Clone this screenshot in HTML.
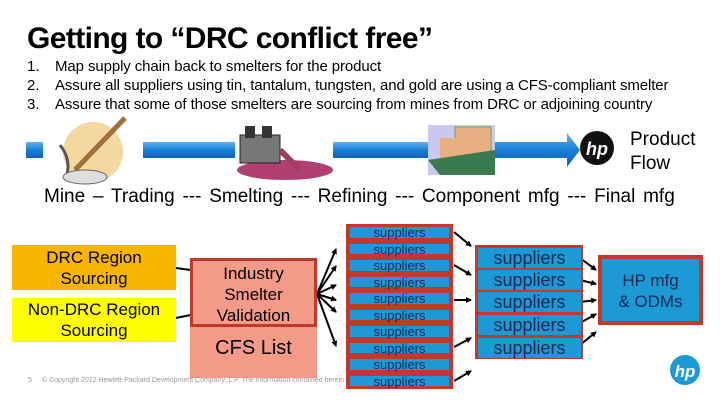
<!DOCTYPE html>
<html><head><meta charset="utf-8"><style>
body{margin:0;width:720px;height:405px;background:#fff;overflow:hidden;position:relative;font-family:"Liberation Sans",sans-serif;color:#000}
.a{position:absolute}
.t{white-space:nowrap}
.sup1{position:absolute;left:346px;width:107px;height:16.5px;background:#c0392b;box-sizing:border-box}
.sup1 div{position:absolute;left:4px;right:4px;top:3px;bottom:3px;background:#1b9ad6;text-align:center;font-size:13px;line-height:11px;color:#1a2a55}
.sup2{position:absolute;left:478px;width:103px;height:20px;background:#1b9ad6;text-align:center;font-size:18px;line-height:20px;color:#1a2a55}
</style></head><body>
<div class="a t" style="left:27px;top:22px;font-size:30px;font-weight:bold;letter-spacing:-0.6px">Getting to “DRC conflict free”</div>
<div class="a t" style="left:27px;top:57px;font-size:15px;line-height:19px">1.<br>2.<br>3.</div>
<div class="a t" style="left:55px;top:57px;font-size:15px;line-height:19px;letter-spacing:-0.1px">Map supply chain back to smelters for the product<br>Assure all suppliers using tin, tantalum, tungsten, and gold are using a CFS-compliant smelter<br>Assure that some of those smelters are sourcing from mines from DRC or adjoining country</div>

<svg class="a" style="left:0;top:0" width="720" height="405">
<defs><linearGradient id="g" x1="0" y1="0" x2="0" y2="1"><stop offset="0" stop-color="#5fb3f0"/><stop offset="0.5" stop-color="#1a7fd8"/><stop offset="1" stop-color="#1060b8"/></linearGradient>
<marker id="m" markerWidth="6" markerHeight="6" refX="5" refY="3" orient="auto" markerUnits="userSpaceOnUse"><path d="M0,0 L6,3 L0,6 z" fill="#000"/></marker></defs>
<rect x="26" y="142" width="17" height="16" fill="url(#g)"/>
<rect x="143" y="142" width="92" height="16" fill="url(#g)"/>
<rect x="333" y="142" width="95" height="16" fill="url(#g)"/>
<polygon points="495,142 567,142 567,133 580,150 567,167 567,158 495,158" fill="url(#g)"/>
<circle cx="93" cy="152" r="30" fill="#f3d9a0"/>
<line x1="75" y1="170" x2="125" y2="118" stroke="#a0703a" stroke-width="5"/>
<path d="M60 145 Q72 160 66 178" stroke="#555" stroke-width="3" fill="none"/>
<ellipse cx="85" cy="177" rx="22" ry="7" fill="#ddd" stroke="#666"/>
<ellipse cx="285" cy="170" rx="48" ry="10" fill="#b04070"/>
<rect x="240" y="135" width="40" height="28" fill="#777" stroke="#222"/>
<rect x="245" y="126" width="10" height="12" fill="#333"/><rect x="262" y="126" width="10" height="12" fill="#333"/>
<path d="M280 150 L300 170" stroke="#a04060" stroke-width="6"/>
<rect x="428" y="125" width="67" height="50" fill="#c8c8f0"/>
<rect x="455" y="127" width="36" height="34" fill="#e8b080" stroke="#6a4"/>
<rect x="440" y="138" width="16" height="20" fill="#e8b080"/>
<polygon points="428,160 495,150 495,175 440,175" fill="#3a7a50"/>
<circle cx="597" cy="148" r="17" fill="#111"/>
<text x="597" y="155" font-family="Liberation Sans" font-style="italic" font-weight="bold" font-size="18" fill="#fff" text-anchor="middle">hp</text>
<circle cx="685" cy="370" r="15" fill="#1b9ad6"/>
<text x="685" y="377" font-family="Liberation Sans" font-style="italic" font-weight="bold" font-size="17" fill="#fff" text-anchor="middle">hp</text>
<g stroke="#000" stroke-width="2" fill="none" marker-end="url(#m)">
<line x1="176" y1="268" x2="205" y2="272"/><line x1="176" y1="318" x2="205" y2="312"/>
<line x1="317" y1="294" x2="336" y2="249"/><line x1="317" y1="294" x2="336" y2="266"/>
<line x1="317" y1="294" x2="336" y2="285"/><line x1="317" y1="294" x2="336" y2="300"/>
<line x1="317" y1="294" x2="336" y2="312"/><line x1="317" y1="294" x2="336" y2="346"/>
<line x1="454" y1="232" x2="471" y2="246"/><line x1="454" y1="265" x2="471" y2="275"/>
<line x1="454" y1="300" x2="471" y2="300"/><line x1="454" y1="347" x2="471" y2="338"/>
<line x1="454" y1="381" x2="471" y2="371"/>
<line x1="580" y1="258" x2="596" y2="270"/><line x1="580" y1="280" x2="596" y2="284"/>
<line x1="580" y1="302" x2="596" y2="300"/><line x1="580" y1="323" x2="596" y2="314"/>
<line x1="580" y1="345" x2="596" y2="332"/>
</g>
</svg>
<div class="a t" style="left:630px;top:128px;font-size:19px;line-height:24px">Product<br>Flow</div>
<div class="a t" style="left:44px;top:186px;font-size:19px;word-spacing:2.5px">Mine – Trading --- Smelting --- Refining --- Component mfg --- Final mfg</div>

<div class="a" style="left:12px;top:245px;width:164px;height:45px;background:#f7b500;text-align:center;font-size:17px;line-height:21px;padding-top:2px;box-sizing:border-box">DRC Region<br>Sourcing</div>
<div class="a" style="left:12px;top:298px;width:164px;height:44px;background:#ffff00;text-align:center;font-size:17px;line-height:21px;padding-top:1px;box-sizing:border-box">Non-DRC Region<br>Sourcing</div>

<div class="a" style="left:190px;top:258px;width:127px;height:120px;background:#f49a88"></div>
<div class="a" style="left:190px;top:258px;width:127px;height:69px;border:3px solid #c0392b;box-sizing:border-box;text-align:center;font-size:17px;line-height:21px;padding-top:2px">Industry<br>Smelter<br>Validation</div>
<div class="a t" style="left:190px;top:337px;width:127px;text-align:center;font-size:20px">CFS List</div>
<div class="a t" style="left:28px;top:377px;font-size:7px;color:#999">5</div>
<div class="a t" style="left:42px;top:377px;font-size:7px;color:#999">© Copyright 2012 Hewlett-Packard Development Company, L.P. The information contained herein is subject</div>

<div class="sup1" style="top:224px"><div>suppliers</div></div>
<div class="sup1" style="top:240.5px"><div>suppliers</div></div>
<div class="sup1" style="top:257px"><div>suppliers</div></div>
<div class="sup1" style="top:273.5px"><div>suppliers</div></div>
<div class="sup1" style="top:290px"><div>suppliers</div></div>
<div class="sup1" style="top:306.5px"><div>suppliers</div></div>
<div class="sup1" style="top:323px"><div>suppliers</div></div>
<div class="sup1" style="top:339.5px"><div>suppliers</div></div>
<div class="sup1" style="top:356px"><div>suppliers</div></div>
<div class="sup1" style="top:372.5px"><div>suppliers</div></div>

<div class="a" style="left:475px;top:245px;width:108px;height:114px;background:#c0392b"></div>
<div class="sup2" style="top:248px">suppliers</div>
<div class="sup2" style="top:270px">suppliers</div>
<div class="sup2" style="top:292px">suppliers</div>
<div class="sup2" style="top:315px">suppliers</div>
<div class="sup2" style="top:338px">suppliers</div>

<div class="a" style="left:598px;top:255px;width:105px;height:70px;background:#1b9ad6;border:4px solid #c0392b;box-sizing:border-box;text-align:center;font-size:17px;line-height:21px;padding-top:11px;color:#1a2a55">HP mfg<br>&amp; ODMs</div>
</body></html>
